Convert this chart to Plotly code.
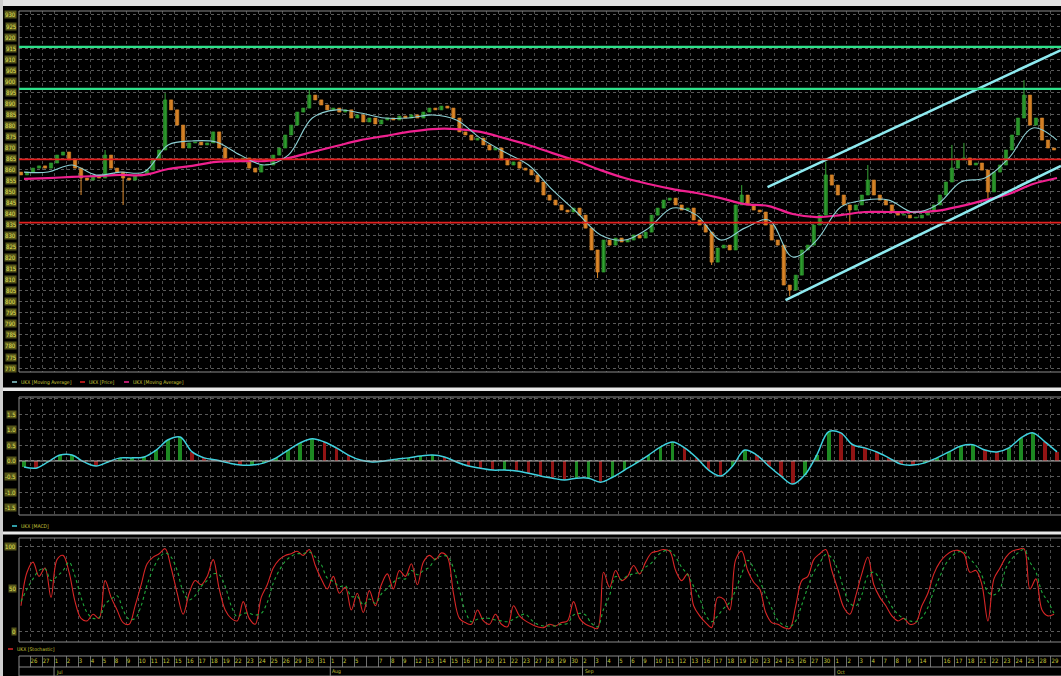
import plotly.graph_objects as go

W, H = 1061, 676

# ---------------- data ----------------
DAY_LABELS = ["26", "27",
              "1", "2", "3", "4", "5", "8", "9", "10", "11", "12", "15", "16", "17", "18", "19",
              "22", "23", "24", "25", "26", "29", "30", "31",
              "1", "2", "5", "", "7", "8", "9", "12", "13", "14", "15", "16", "19", "20", "21",
              "22", "23", "27", "28", "29", "30",
              "2", "3", "4", "5", "6", "9", "10", "11", "12", "13", "16", "17", "18", "19", "20",
              "23", "24", "25", "26", "27", "30",
              "1", "2", "3", "4", "7", "8", "9", "14", "", "16", "17", "18", "21", "22", "23",
              "24", "25", "28", "29"]
MONTH_NAMES = ["Jul", "Aug", "Sep", "Oct"]
MONTH_FIRST_DAY = [2, 25, 46, 67]

FIRST_BAR_DAY = -1.25
BAR_STEP = 0.5
PRICE_OPEN_FIRST = 858.8
PRICE_CLOSE = [
    857.5, 858.8, 860.6, 861.6, 860.6, 862.9, 866.5, 867.9, 864.3, 860.6,
    856.1, 855.2, 857.0, 856.1, 866.5, 860.6, 858.8, 856.1, 855.2, 857.0,
    857.9, 859.7, 864.3, 868.8, 891.5, 887.0, 880.1, 869.7, 872.0, 872.4,
    871.1, 872.0, 877.0, 869.7, 865.2, 864.3, 863.4, 865.2, 860.6, 858.8,
    862.0, 862.0, 866.5, 869.7, 875.6, 880.1, 886.0, 887.8, 893.7, 891.5,
    889.2, 887.0, 887.8, 886.0, 887.0, 883.3, 884.7, 881.5, 883.3, 880.6,
    882.4, 883.3, 882.4, 884.2, 883.3, 884.7, 883.3, 886.0, 887.8, 887.0,
    888.7, 887.8, 883.3, 877.0, 875.6, 873.3, 874.2, 871.1, 868.8, 869.7,
    864.3, 862.0, 863.4, 860.6, 859.7, 857.5, 854.3, 848.4, 846.1, 843.9,
    841.6, 840.7, 842.5, 839.3, 833.4, 823.5, 813.5, 828.0, 825.7, 828.9,
    827.1, 828.0, 830.3, 828.9, 831.6, 839.3, 842.5, 846.1, 847.0, 843.9,
    841.6, 842.5, 837.1, 834.8, 831.6, 818.0, 824.4, 825.7, 823.5, 843.9,
    848.4, 843.9, 841.6, 840.7, 834.8, 828.0, 825.7, 807.6, 805.3, 812.1,
    823.5, 825.7, 834.8, 839.3, 857.5, 852.9, 848.4, 843.9, 841.6, 843.9,
    848.4, 855.2, 848.4, 846.1, 843.9, 840.7, 839.3, 839.3, 838.0, 838.0,
    839.3, 840.7, 843.9, 848.4, 854.3, 860.6, 864.3, 865.2, 862.0, 862.9,
    859.7, 849.8, 858.8, 862.0, 868.8, 875.6, 883.3, 893.7, 880.1, 883.3,
    873.3, 869.7, 868.8]
WICK_HIGH = {14: 868.8, 24: 894.6, 48: 896.0, 120: 852.9, 134: 863.4,
             141: 862.0, 155: 871.1, 157: 872.0, 167: 900.5}
WICK_LOW = {10: 848.4, 17: 843.9, 96: 810.8, 115: 816.7, 128: 802.6,
            138: 834.9, 161: 847.0}

MA_FIRST_DAY = -1
MA_STEP = 2
MA_FAST = [858.8, 858.8, 862.0, 857.5, 858.8, 858.8, 871.1, 872.9, 872.4, 866.5,
           862.0, 866.5, 883.3, 887.0, 885.6, 883.3, 883.3, 884.7, 882.4, 874.2,
           867.9, 862.0, 850.7, 840.7, 830.3, 828.0, 833.4, 842.5, 839.3, 828.0,
           833.4, 837.1, 820.3, 828.0, 843.0, 846.1, 846.1, 840.7, 843.9, 854.3,
           856.1, 865.2, 878.8, 873.3]
MA_SLOW = [855.7, 856.1, 856.6, 857.0, 857.5, 857.5, 860.2, 861.6, 863.4, 863.8,
           863.8, 865.2, 867.9, 870.6, 873.3, 875.1, 877.0, 878.3, 878.3, 877.0,
           874.2, 871.1, 867.4, 863.8, 859.7, 856.1, 853.4, 851.1, 849.3, 847.0,
           844.3, 843.4, 839.8, 838.4, 839.3, 840.7, 840.7, 840.7, 841.2, 843.4,
           846.1, 848.9, 853.4, 856.1]

MACD_FIRST_DAY = -1
MACD = [-0.19, -0.23, -0.03, 0.19, 0.19, -0.03, -0.16, -0.03, 0.10, 0.10,
        0.13, 0.35, 0.68, 0.77, 0.29, 0.10, 0.03, -0.06, -0.13, -0.13,
        -0.06, 0.10, 0.35, 0.58, 0.71, 0.61, 0.42, 0.19, 0.03, -0.03,
        0.00, 0.06, 0.10, 0.16, 0.19, 0.13, -0.03, -0.16, -0.23, -0.29,
        -0.29, -0.32, -0.39, -0.48, -0.55, -0.61, -0.55, -0.55, -0.68, -0.52,
        -0.29, -0.06, 0.19, 0.45, 0.61, 0.42, 0.10, -0.29, -0.48, -0.16,
        0.35, 0.19, -0.16, -0.48, -0.74, -0.45, 0.19, 0.94, 0.90, 0.52,
        0.42, 0.29, 0.10, -0.10, -0.13, -0.06, 0.10, 0.29, 0.48, 0.52,
        0.35, 0.29, 0.42, 0.74, 0.90, 0.61, 0.29]

STOCH_K = [30, 70, 82, 65, 75, 40, 85, 90, 70, 35,
           15, 12, 20, 15, 60, 40, 25, 10, 8, 30,
           55, 80, 88, 92, 98, 75, 45, 20, 45, 60,
           55, 65, 85, 50, 25, 15, 12, 35, 15, 8,
           40, 55, 75, 85, 90, 92, 95, 90, 97, 78,
           62, 50, 65, 45, 52, 25, 45, 22, 48, 30,
           55, 68, 50, 72, 65, 80, 55, 82, 90, 85,
           93, 88, 45, 15, 10, 8, 25, 12, 8, 20,
           8, 5, 30, 18, 12, 8, 5, 4, 8, 6,
           10, 12, 35, 15, 8, 5, 3, 70, 52, 72,
           60, 65, 78, 68, 82, 93, 95, 97, 95, 72,
           60, 68, 30, 18, 10, 4, 40, 38, 25, 85,
           95, 72, 58, 50, 22, 10, 8, 4, 3, 30,
           60, 65, 85, 92, 97, 72, 50, 28, 20, 42,
           68, 88, 55, 40, 30, 18, 12, 15, 8, 10,
           30, 45, 68, 82, 90, 95, 96, 92, 70, 72,
           55, 12, 62, 75, 88, 95, 97, 98, 50, 62,
           25, 18, 20]
STOCH_D = [35, 50, 62, 72, 74, 60, 65, 72, 82, 65,
           40, 22, 15, 16, 32, 38, 42, 25, 14, 15,
           30, 55, 74, 87, 93, 88, 72, 47, 37, 42,
           53, 60, 68, 67, 53, 30, 17, 21, 21, 19,
           21, 34, 57, 72, 83, 89, 92, 92, 94, 88,
           79, 63, 59, 53, 54, 41, 41, 31, 38, 33,
           44, 51, 58, 63, 62, 72, 67, 72, 76, 86,
           89, 89, 75, 49, 23, 11, 14, 15, 15, 13,
           12, 11, 14, 18, 20, 13, 8, 6, 6, 6,
           8, 9, 19, 21, 19, 9, 5, 26, 42, 65,
           61, 66, 68, 70, 76, 81, 90, 95, 96, 88,
           76, 67, 53, 39, 19, 11, 18, 27, 34, 49,
           68, 84, 75, 60, 43, 27, 13, 7, 5, 12,
           31, 52, 70, 81, 91, 87, 73, 50, 33, 30,
           43, 66, 70, 61, 42, 29, 20, 15, 12, 11,
           16, 28, 48, 65, 80, 89, 94, 94, 86, 78,
           66, 46, 43, 50, 75, 86, 93, 97, 82, 70,
           46, 35, 21]

RESISTANCE_LEVELS = [915.5, 896.5]
SUPPORT_LEVELS = [864.6, 835.9]
CHANNEL_UPPER_DAYS = [60.9, 85.33]
CHANNEL_UPPER_VALUES = [852.0, 914.1]
CHANNEL_LOWER_DAYS = [62.4, 85.33]
CHANNEL_LOWER_VALUES = [800.8, 861.6]

PRICE_TICKS = list(range(770, 931, 5))
MACD_TICKS = [1.5, 1.0, 0.5, 0.0, -0.5, -1.0, -1.5]
STOCH_TICKS = [100, 50, 0]
SERIES_NAME = "UKX"

# ---------------- derived ----------------
n_bars = len(PRICE_CLOSE)
bar_x = [FIRST_BAR_DAY + BAR_STEP * i for i in range(n_bars)]
opens = [PRICE_OPEN_FIRST] + PRICE_CLOSE[:-1]
highs = [max(o, c) for o, c in zip(opens, PRICE_CLOSE)]
lows = [min(o, c) for o, c in zip(opens, PRICE_CLOSE)]
for i, v in WICK_HIGH.items():
    highs[i] = max(highs[i], v)
for i, v in WICK_LOW.items():
    lows[i] = min(lows[i], v)
ma_x = [MA_FIRST_DAY + MA_STEP * i for i in range(len(MA_FAST))]
macd_x = [MACD_FIRST_DAY + i for i in range(len(MACD))]
macd_colors = ["#1d8a22" if (i == 0 or MACD[i] >= MACD[i - 1]) else "#921414"
               for i in range(len(MACD))]
stoch_x = bar_x[:len(STOCH_K)]
day_x = list(range(len(DAY_LABELS)))

UP_COL, UP_EDGE = "#1f801f", "#35a535"
DN_COL, DN_EDGE = "#c8761e", "#dd8a2e"


def fx(p):
    return p / W


def fy(p):
    return 1 - p / H


X_RANGE = [-1.417, 85.333]
GRID = "#4c4c4c"
TXT = "#c8c83a"
FONT = "Liberation Sans Narrow, DejaVu Sans Condensed, Arial Narrow, sans-serif"

DATE_TOP, DATE_BOT = 656, 667

fig = go.Figure()

# ---- candles: wicks + bodies ----
for is_up, col, edge in ((True, UP_COL, UP_EDGE), (False, DN_COL, DN_EDGE)):
    wx, wy, bx, bb, bh = [], [], [], [], []
    for i in range(n_bars):
        up = PRICE_CLOSE[i] >= opens[i]
        if up != is_up:
            continue
        wx += [bar_x[i], bar_x[i], None]
        wy += [lows[i], highs[i], None]
        bx.append(bar_x[i])
        bb.append(min(opens[i], PRICE_CLOSE[i]))
        bh.append(max(abs(PRICE_CLOSE[i] - opens[i]), 0.35))
    fig.add_trace(go.Scatter(x=wx, y=wy, mode="lines", line=dict(color=edge, width=1),
                             xaxis="x", yaxis="y", showlegend=False, hoverinfo="skip"))
    fig.add_trace(go.Bar(x=bx, y=bh, base=bb, width=0.27,
                         marker=dict(color=col, line=dict(color=edge, width=0.6)),
                         xaxis="x", yaxis="y", showlegend=False, hoverinfo="skip"))

fig.add_trace(go.Scatter(x=ma_x, y=MA_SLOW, mode="lines", line=dict(color="#f0208f", width=2.2, shape="spline"),
                         xaxis="x", yaxis="y", showlegend=False, hoverinfo="skip"))
fig.add_trace(go.Scatter(x=ma_x, y=MA_FAST, mode="lines", line=dict(color="#8ccfd3", width=1.1, shape="spline"),
                         xaxis="x", yaxis="y", showlegend=False, hoverinfo="skip"))
for dx, dy in ((CHANNEL_UPPER_DAYS, CHANNEL_UPPER_VALUES), (CHANNEL_LOWER_DAYS, CHANNEL_LOWER_VALUES)):
    fig.add_trace(go.Scatter(x=dx, y=dy, mode="lines", line=dict(color="#8eeaf0", width=2.6),
                             xaxis="x", yaxis="y", showlegend=False, hoverinfo="skip"))

# ---- MACD panel ----
fig.add_trace(go.Bar(x=macd_x, y=MACD, marker=dict(color=macd_colors, line=dict(width=0)), width=0.3,
                     xaxis="x2", yaxis="y2", showlegend=False, hoverinfo="skip"))
fig.add_trace(go.Scatter(x=macd_x, y=MACD, mode="lines", line=dict(color="#3fd0de", width=1.5, shape="spline"),
                         xaxis="x2", yaxis="y2", showlegend=False, hoverinfo="skip"))

# ---- Stochastic panel ----
fig.add_trace(go.Scatter(x=stoch_x, y=STOCH_K, mode="lines", line=dict(color="#d82626", width=1.1, shape="spline"),
                         xaxis="x3", yaxis="y3", showlegend=False, hoverinfo="skip"))
fig.add_trace(go.Scatter(x=stoch_x, y=STOCH_D, mode="lines",
                         line=dict(color="#1fa83a", width=1.1, dash="dot", shape="spline"),
                         xaxis="x3", yaxis="y3", showlegend=False, hoverinfo="skip"))

# ---- date row ----
fig.add_trace(go.Scatter(x=[d - 0.45 for d in day_x], y=[0.5] * len(day_x), mode="text", text=DAY_LABELS,
                         textposition="middle right", textfont=dict(color=TXT, size=6, family=FONT),
                         xaxis="x4", yaxis="y4", showlegend=False, hoverinfo="skip"))

xcommon = dict(range=X_RANGE, showgrid=True, gridcolor=GRID, griddash="dot", gridwidth=1,
               tick0=-0.5, dtick=1, showticklabels=False, zeroline=False, ticks="",
               domain=[fx(19), 1], fixedrange=True)

fig.update_layout(
    width=W, height=H, margin=dict(l=0, r=0, t=0, b=0),
    paper_bgcolor="#000000", plot_bgcolor="#000000", barmode="overlay", bargap=0,
    xaxis=dict(**xcommon, anchor="y"),
    yaxis=dict(domain=[fy(372), fy(11)], range=[768.2, 931.8], tick0=770, dtick=5,
               showgrid=True, gridcolor="#5a5a5a", griddash="dot", showticklabels=False,
               zeroline=False, anchor="x"),
    xaxis2=dict(**xcommon, anchor="y2"),
    yaxis2=dict(domain=[fy(515), fy(397)], range=[-1.731, 2.051], tick0=0, dtick=0.5,
                showgrid=True, gridcolor="#5a5a5a", griddash="dot", showticklabels=False,
                zeroline=False, anchor="x2"),
    xaxis3=dict(**xcommon, anchor="y3"),
    yaxis3=dict(domain=[fy(642), fy(538)], range=[-13.1, 110.7], tickvals=STOCH_TICKS,
                showgrid=True, gridcolor="#5a5a5a", griddash="dot", showticklabels=False,
                zeroline=False, anchor="x3"),
    xaxis4=dict(range=X_RANGE, showgrid=True, gridcolor="#6e6e6e", gridwidth=1, tick0=-0.5, dtick=1,
                showticklabels=False, zeroline=False, ticks="", domain=[fx(19), 1], anchor="y4"),
    yaxis4=dict(domain=[fy(DATE_BOT), fy(DATE_TOP)], range=[0, 1], showgrid=False, showticklabels=False,
                zeroline=False, anchor="x4"),
)

shapes = []
# window chrome
shapes.append(dict(type="rect", xref="paper", yref="paper", x0=0, x1=1, y0=fy(6), y1=1,
                   fillcolor="#e4e4e4", line=dict(width=0), layer="above"))
shapes.append(dict(type="rect", xref="paper", yref="paper", x0=0, x1=fx(3), y0=0, y1=1,
                   fillcolor="#cfcfcf", line=dict(width=0), layer="above"))
# separators
for a, b in ((387.5, 391), (531.5, 534.5)):
    shapes.append(dict(type="rect", xref="paper", yref="paper", x0=fx(3), x1=1, y0=fy(b), y1=fy(a),
                       fillcolor="#e8e8e8", line=dict(width=0), layer="above"))
# panel frames
for top, bot in ((11, 372), (397, 515), (538, 642), (DATE_TOP, 676)):
    shapes.append(dict(type="rect", xref="paper", yref="paper", x0=fx(19), x1=fx(1062), y0=fy(bot), y1=fy(top),
                       line=dict(color="#8a8a8a", width=1), layer="above"))
shapes.append(dict(type="line", xref="paper", yref="paper", x0=fx(19), x1=1, y0=fy(DATE_BOT), y1=fy(DATE_BOT),
                   line=dict(color="#8a8a8a", width=1)))
# level lines
for lv in RESISTANCE_LEVELS:
    shapes.append(dict(type="line", xref="x domain", yref="y", x0=0, x1=1, y0=lv, y1=lv,
                       line=dict(color="#2ee08a", width=2.2), layer="above"))
for lv in SUPPORT_LEVELS:
    shapes.append(dict(type="line", xref="x domain", yref="y", x0=0, x1=1, y0=lv, y1=lv,
                       line=dict(color="#e3201f", width=1.8), layer="above"))
# MACD zero line
shapes.append(dict(type="line", xref="x2 domain", yref="y2", x0=0, x1=1, y0=0, y1=0,
                   line=dict(color="#b8b8b8", width=1)))
# month separators
for d in MONTH_FIRST_DAY:
    shapes.append(dict(type="line", xref="x4", yref="paper", x0=d - 0.5, x1=d - 0.5, y0=0, y1=fy(DATE_BOT),
                       line=dict(color="#8a8a8a", width=1)))

annotations = []


def ytick(text, yref, val):
    annotations.append(dict(x=fx(17), xref="paper", xanchor="right", y=val, yref=yref, yanchor="middle",
                            text=text, showarrow=False, bgcolor="#55551a",
                            font=dict(color="#e6e65a", size=6, family=FONT), borderpad=0))


for t in PRICE_TICKS:
    ytick(str(t), "y", t)
for t in MACD_TICKS:
    ytick(f"{t:.1f}", "y2", t)
for t in STOCH_TICKS:
    ytick(str(t), "y3", t)

for i, m in enumerate(MONTH_NAMES):
    annotations.append(dict(x=MONTH_FIRST_DAY[i] - 0.42, xref="x4", xanchor="left", y=fy(671.5), yref="paper",
                            yanchor="middle", text=m, showarrow=False, borderpad=0,
                            font=dict(color=TXT, size=5, family=FONT)))


def legend_row(ypx, items):
    for x0, color, label in items:
        shapes.append(dict(type="line", xref="paper", yref="paper", x0=fx(x0), x1=fx(x0 + 5),
                           y0=fy(ypx), y1=fy(ypx), line=dict(color=color, width=1.5)))
        annotations.append(dict(x=fx(x0 + 7), xref="paper", xanchor="left", y=fy(ypx), yref="paper",
                                yanchor="middle", text=label, showarrow=False,
                                font=dict(color=TXT, size=5, family=FONT)))


legend_row(382, [(12, "#8ccfd3", f"{SERIES_NAME} [Moving Average]"),
                 (80, "#e3201f", f"{SERIES_NAME} [Price]"),
                 (124, "#f0208f", f"{SERIES_NAME} [Moving Average]")])
legend_row(526, [(12, "#3fd0de", f"{SERIES_NAME} [MACD]")])
legend_row(649, [(8, "#d82626", f"{SERIES_NAME} [Stochastic]")])

fig.update_layout(shapes=shapes, annotations=annotations)
fig.write_html("out.html", config={"displayModeBar": False, "staticPlot": True},
               post_script="document.body.style.margin='0';document.body.style.padding='0';")
